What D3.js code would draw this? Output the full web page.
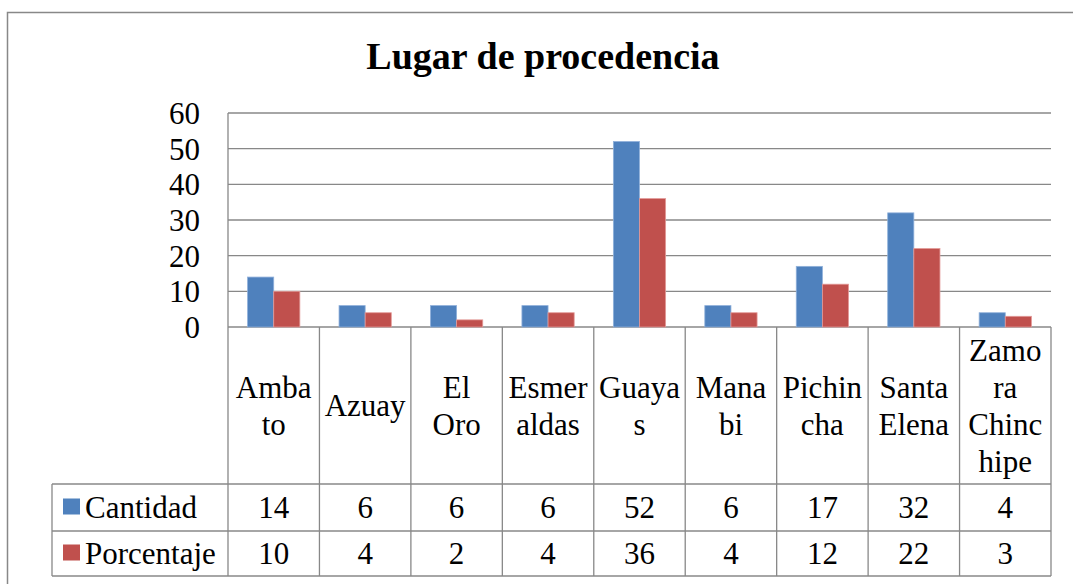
<!DOCTYPE html>
<html>
<head>
<meta charset="utf-8">
<script src="https://cdn.jsdelivr.net/npm/d3@7"></script>
<style>
  body { margin: 0; background: #fff; }
  svg text { font-family: "Liberation Serif", "Times New Roman", Times, serif; fill: #000; }
</style>
</head>
<body>
<script>
// data
let categories = ["Ambato", "Azuay", "El Oro", "Esmeraldas", "Guayas", "Manabi", "Pichincha", "Santa Elena", "Zamora Chinchipe"];
let series = ["Cantidad", "Porcentaje"];
let cantidad = [14, 6, 6, 6, 52, 6, 17, 32, 4];
let porcentaje = [10, 4, 2, 4, 36, 4, 12, 22, 3];
let y_ticks = [0, 10, 20, 30, 40, 50, 60];
let colors = ["#4f81bd", "#c0504d"];
let strokes = ["#8fb0da", "#e39a98"];

let width = 1073, height = 584;
let plot = { top: 113, bottom: 327, left: 228, right: 1051 };
let table = { left: 52, catBottom: 484, row1: 531, row2: 576 };
let fs = 31;
let font = "Liberation Serif";
let grid = "#888888";

let values = [cantidad, porcentaje];

let svg = d3.select("body")
  .append("svg")
    .attr("width", width)
    .attr("height", height);

// outer chart border (right and bottom run off the picture)
svg.append("rect")
  .attr("x", 7.5).attr("y", 12.5)
  .attr("width", 1100).attr("height", 620)
  .attr("fill", "none").attr("stroke", grid).attr("stroke-width", 1.5);

svg.append("text")
  .attr("x", 543).attr("y", 69)
  .attr("text-anchor", "middle")
  .attr("font-family", font)
  .attr("font-weight", "bold").attr("font-size", 38)
  .text("Lugar de procedencia");

let x = d3.scaleBand()
  .domain(categories)
  .range([plot.left, plot.right])
  .padding(0);

let xs = d3.scaleBand()
  .domain(series)
  .range([0, x.bandwidth()])
  .paddingInner(0)
  .paddingOuter(0.75);

let y = d3.scaleLinear()
  .domain([0, 60])
  .range([plot.bottom, plot.top]);

// gridlines
svg.append("g")
  .selectAll("line")
  .data(y_ticks)
  .join("line")
    .attr("x1", plot.left).attr("x2", plot.right)
    .attr("y1", d => y(d)).attr("y2", d => y(d))
    .attr("stroke", grid).attr("stroke-width", 1.3);

// y tick labels
svg.append("g")
  .selectAll("text")
  .data(y_ticks)
  .join("text")
    .attr("x", 200)
    .attr("y", d => y(d) + 11)
    .attr("text-anchor", "end")
    .attr("font-family", font)
    .attr("font-size", fs)
    .text(d => d);

// bars
series.forEach((s, si) => {
  svg.append("g")
    .selectAll("rect")
    .data(values[si])
    .join("rect")
      .attr("x", (d, i) => x(categories[i]) + xs(s))
      .attr("y", d => y(d))
      .attr("width", xs.bandwidth())
      .attr("height", d => y(0) - y(d))
      .attr("fill", colors[si])
      .attr("stroke", strokes[si])
      .attr("stroke-width", 0.8);
});

// data table lines
let lines = svg.append("g").attr("stroke", grid).attr("stroke-width", 1.3);
lines.append("line").attr("x1", plot.left).attr("x2", plot.left).attr("y1", plot.top).attr("y2", table.row2);
[table.catBottom, table.row1, table.row2].forEach(yy => {
  lines.append("line").attr("x1", table.left).attr("x2", plot.right).attr("y1", yy).attr("y2", yy);
});
lines.append("line").attr("x1", table.left).attr("x2", table.left).attr("y1", table.catBottom).attr("y2", table.row2);
lines.selectAll(".v")
  .data(categories)
  .join("line")
    .attr("x1", d => x(d) + x.bandwidth()).attr("x2", d => x(d) + x.bandwidth())
    .attr("y1", plot.bottom).attr("y2", table.row2);

// category labels, wrapped like Excel (break inside words when they do not fit)
let maxW = 81.8;
let measure = svg.append("text").attr("font-family", font).attr("font-size", fs).attr("opacity", 0);
function textW(t) { measure.text(t); return measure.node().getComputedTextLength(); }
function wrap(label) {
  let out = [];
  label.split(" ").forEach(word => {
    let cur = "";
    for (let ch of word) {
      if (cur && textW(cur + ch) > maxW) { out.push(cur); cur = ch; }
      else cur += ch;
    }
    out.push(cur);
  });
  return out;
}
let labelMid = 416;
let lh = 37;
categories.forEach(c => {
  let ls = wrap(c);
  let t = svg.append("text")
    .attr("text-anchor", "middle")
    .attr("font-family", font)
    .attr("font-size", fs);
  ls.forEach((l, i) => {
    t.append("tspan")
      .attr("x", x(c) + x.bandwidth() / 2)
      .attr("y", labelMid + (i - (ls.length - 1) / 2) * lh)
      .text(l);
  });
});
measure.remove();

// table rows: legend key + values
let rowMid = [(table.catBottom + table.row1) / 2, (table.row1 + table.row2) / 2];
series.forEach((s, si) => {
  svg.append("rect")
    .attr("x", 63).attr("y", rowMid[si] - 9)
    .attr("width", 17).attr("height", 16)
    .attr("fill", colors[si]);
  svg.append("text")
    .attr("x", 85).attr("y", rowMid[si] + 10.5)
    .attr("font-family", font)
    .attr("font-size", fs)
    .text(s);
  svg.append("g")
    .selectAll("text")
    .data(values[si])
    .join("text")
      .attr("x", (d, i) => x(categories[i]) + x.bandwidth() / 2)
      .attr("y", rowMid[si] + 10.5)
      .attr("text-anchor", "middle")
      .attr("font-family", font)
      .attr("font-size", fs)
      .text(d => d);
});
</script>
</body>
</html>
